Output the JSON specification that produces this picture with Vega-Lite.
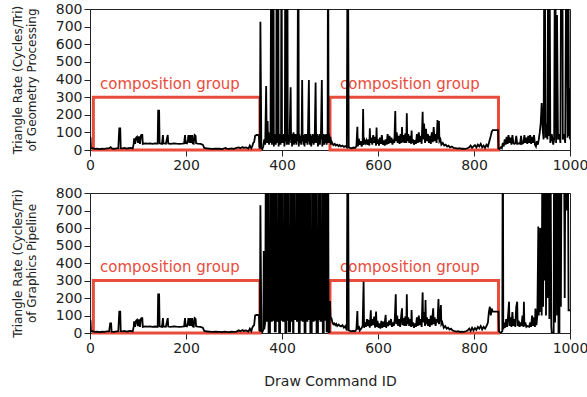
{
  "$schema": "https://vega.github.io/schema/vega-lite/v6.json",
  "padding": {"left": 10, "top": 1, "right": 0, "bottom": 5},
  "background": "white",
  "spacing": 12,
  "config": {
    "font": "DejaVu Sans",
    "view": {"stroke": "#222", "strokeWidth": 1},
    "axis": {"grid": false, "domainColor": "#222", "tickColor": "#222", "labelColor": "#222", "titleColor": "#222", "labelFontSize": 14, "titleFontSize": 12, "titleFontWeight": "normal", "tickSize": 6, "labelPadding": 2, "labelFont": "DejaVu Sans", "titleFont": "DejaVu Sans", "format": "d", "labelFlush": false, "labelOverlap": false}
  },
  "datasets": {
    "boxes": [
      {"a": 7, "b": 354, "lo": 0, "hi": 300, "tx": 21, "ty": 375, "label": "composition group"},
      {"a": 500, "b": 851, "lo": 0, "hi": 300, "tx": 521, "ty": 375, "label": "composition group"}
    ],
    "geo": [
      {"x":0,"y":75},{"x":1,"y":70},{"x":2,"y":8},{"x":5,"y":10},{"x":10,"y":6},{"x":15,"y":8},{"x":20,"y":5},{"x":25,"y":7},{"x":30,"y":6},{"x":35,"y":9},{"x":40,"y":10},{"x":43,"y":16},{"x":46,"y":8},{"x":50,"y":7},{"x":55,"y":9},{"x":59,"y":10},{"x":61,"y":123},{"x":63,"y":123},{"x":64,"y":10},{"x":68,"y":9},{"x":72,"y":12},{"x":76,"y":8},{"x":80,"y":10},{"x":85,"y":12},{"x":89,"y":9},
      {"x":91,"y":35},{"x":92,"y":66},{"x":94,"y":35},{"x":96,"y":70},{"x":98,"y":75},{"x":100,"y":40},{"x":102,"y":78},{"x":104,"y":35},{"x":106,"y":80},{"x":107,"y":85},{"x":109,"y":85},{"x":110,"y":35},{"x":115,"y":38},{"x":120,"y":36},{"x":125,"y":38},{"x":130,"y":35},{"x":135,"y":37},{"x":141,"y":36},{"x":142,"y":223},{"x":144,"y":223},{"x":145,"y":38},{"x":150,"y":35},{"x":152,"y":85},{"x":153,"y":38},{"x":158,"y":36},{"x":162,"y":85},{"x":163,"y":37},{"x":168,"y":35},{"x":175,"y":38},{"x":180,"y":36},{"x":186,"y":35},{"x":192,"y":36},{"x":196,"y":37},{"x":198,"y":85},{"x":199,"y":40},{"x":202,"y":38},{"x":204,"y":60},{"x":205,"y":85},{"x":207,"y":40},{"x":209,"y":85},{"x":211,"y":40},{"x":213,"y":85},{"x":214,"y":38},{"x":216,"y":36},{"x":218,"y":85},{"x":220,"y":80},{"x":221,"y":38},{"x":225,"y":36},{"x":230,"y":35},{"x":235,"y":30},{"x":238,"y":12},{"x":242,"y":10},{"x":248,"y":8},{"x":255,"y":6},{"x":262,"y":8},{"x":270,"y":7},{"x":275,"y":5},{"x":280,"y":10},{"x":282,"y":12},{"x":285,"y":8},{"x":290,"y":6},{"x":295,"y":9},{"x":300,"y":7},{"x":305,"y":12},{"x":310,"y":15},{"x":313,"y":10},{"x":318,"y":17},{"x":320,"y":12},{"x":325,"y":15},{"x":330,"y":8},{"x":333,"y":25},{"x":336,"y":10},{"x":338,"y":20},
      {"x":340,"y":40},{"x":342,"y":45},{"x":344,"y":80},{"x":347,"y":85},{"x":350,"y":85},{"x":352,"y":80},{"x":353,"y":20},{"x":354,"y":10},{"x":355,"y":728},{"x":357,"y":10},{"x":359,"y":5},{"x":361,"y":20},{"x":363,"y":60},{"x":365,"y":30},{"x":367,"y":363},{"x":368,"y":80},{"x":369,"y":40},{"x":370,"y":165},{"x":371,"y":50},{"x":372,"y":100},{"x":373,"y":30},{"x":374,"y":80},{"x":375,"y":40},{"x":376,"y":90},{"x":378,"y":1500},{"x":379,"y":30},{"x":380,"y":90},{"x":381,"y":60},{"x":382,"y":1500},{"x":383,"y":20},{"x":384,"y":90},{"x":385,"y":50},{"x":386,"y":80},{"x":387,"y":30},{"x":388,"y":80},{"x":389,"y":1500},{"x":390,"y":40},{"x":391,"y":100},{"x":392,"y":1500},{"x":393,"y":20},{"x":394,"y":85},{"x":395,"y":50},{"x":396,"y":90},{"x":397,"y":30},{"x":398,"y":80},{"x":399,"y":1500},{"x":400,"y":40},{"x":401,"y":60},{"x":402,"y":80},{"x":403,"y":40},{"x":404,"y":90},{"x":405,"y":20},{"x":406,"y":70},{"x":407,"y":1500},{"x":408,"y":50},{"x":409,"y":90},{"x":410,"y":30},{"x":411,"y":1500},{"x":412,"y":60},{"x":413,"y":80},{"x":414,"y":30},{"x":416,"y":90},{"x":418,"y":356},{"x":419,"y":40},{"x":420,"y":90},{"x":421,"y":20},{"x":422,"y":80},{"x":423,"y":60},{"x":424,"y":100},{"x":425,"y":30},{"x":426,"y":80},{"x":427,"y":40},{"x":428,"y":90},{"x":429,"y":60},{"x":430,"y":30},{"x":431,"y":85},{"x":432,"y":50},{"x":434,"y":1500},{"x":435,"y":20},{"x":436,"y":90},{"x":437,"y":40},{"x":438,"y":80},{"x":439,"y":60},{"x":440,"y":30},{"x":441,"y":90},{"x":442,"y":397},{"x":443,"y":50},{"x":444,"y":85},{"x":445,"y":30},{"x":446,"y":70},{"x":447,"y":20},{"x":448,"y":90},{"x":449,"y":50},{"x":450,"y":80},{"x":451,"y":40},{"x":452,"y":90},{"x":453,"y":30},{"x":454,"y":85},{"x":456,"y":397},{"x":457,"y":60},{"x":458,"y":30},{"x":459,"y":90},{"x":460,"y":50},{"x":461,"y":20},{"x":462,"y":80},{"x":463,"y":40},{"x":464,"y":90},{"x":465,"y":60},{"x":466,"y":30},{"x":467,"y":85},{"x":468,"y":40},{"x":470,"y":383},{"x":471,"y":80},{"x":472,"y":40},{"x":473,"y":90},{"x":474,"y":60},{"x":475,"y":20},{"x":476,"y":80},{"x":477,"y":50},{"x":478,"y":90},{"x":479,"y":30},{"x":480,"y":85},{"x":481,"y":60},{"x":483,"y":397},{"x":484,"y":20},{"x":485,"y":80},{"x":486,"y":50},{"x":487,"y":90},{"x":488,"y":30},{"x":489,"y":85},{"x":490,"y":60},{"x":491,"y":40},{"x":492,"y":90},{"x":493,"y":30},{"x":494,"y":70},{"x":495,"y":50},{"x":496,"y":1500},{"x":497,"y":40},{"x":498,"y":90},
      {"x":499,"y":60},{"x":500,"y":40},{"x":501,"y":75},{"x":502,"y":30},{"x":503,"y":50},{"x":505,"y":38},{"x":507,"y":28},{"x":510,"y":35},{"x":512,"y":25},{"x":515,"y":30},{"x":518,"y":22},{"x":520,"y":28},{"x":523,"y":20},{"x":526,"y":25},{"x":529,"y":18},{"x":532,"y":22},{"x":535,"y":15},{"x":537,"y":1500},{"x":539,"y":15},{"x":542,"y":12},{"x":545,"y":10},{"x":549,"y":14},{"x":552,"y":12},{"x":555,"y":20},{"x":557,"y":132},{"x":558,"y":20},{"x":560,"y":65},{"x":562,"y":30},{"x":564,"y":50},{"x":566,"y":20},{"x":568,"y":40},{"x":569,"y":233},{"x":570,"y":30},{"x":572,"y":57},{"x":574,"y":40},{"x":576,"y":55},{"x":578,"y":30},{"x":580,"y":60},{"x":582,"y":25},{"x":583,"y":123},{"x":584,"y":40},{"x":586,"y":70},{"x":588,"y":30},{"x":590,"y":85},{"x":592,"y":40},{"x":594,"y":75},{"x":596,"y":25},{"x":597,"y":127},{"x":598,"y":35},{"x":600,"y":60},{"x":602,"y":25},{"x":604,"y":70},{"x":606,"y":35},{"x":608,"y":85},{"x":610,"y":30},{"x":612,"y":55},{"x":614,"y":25},{"x":616,"y":60},{"x":618,"y":30},{"x":620,"y":90},{"x":622,"y":35},{"x":624,"y":80},{"x":626,"y":40},{"x":628,"y":70},{"x":630,"y":30},{"x":632,"y":60},{"x":634,"y":40},{"x":636,"y":221},{"x":637,"y":50},{"x":639,"y":100},{"x":641,"y":40},{"x":643,"y":80},{"x":645,"y":35},{"x":647,"y":90},{"x":649,"y":40},{"x":650,"y":130},{"x":651,"y":45},{"x":653,"y":85},{"x":655,"y":40},{"x":657,"y":95},{"x":659,"y":40},{"x":660,"y":208},{"x":661,"y":50},{"x":663,"y":90},{"x":665,"y":40},{"x":667,"y":80},{"x":669,"y":35},{"x":670,"y":110},{"x":671,"y":40},{"x":673,"y":60},{"x":675,"y":30},{"x":677,"y":55},{"x":679,"y":35},{"x":681,"y":90},{"x":683,"y":40},{"x":685,"y":100},{"x":687,"y":45},{"x":689,"y":80},{"x":691,"y":35},{"x":693,"y":217},{"x":694,"y":60},{"x":696,"y":150},{"x":698,"y":40},{"x":700,"y":120},{"x":702,"y":50},{"x":704,"y":90},{"x":706,"y":40},{"x":708,"y":80},{"x":710,"y":35},{"x":712,"y":100},{"x":714,"y":45},{"x":716,"y":130},{"x":718,"y":50},{"x":720,"y":90},{"x":722,"y":40},{"x":724,"y":170},{"x":725,"y":60},{"x":727,"y":165},{"x":728,"y":50},{"x":730,"y":60},{"x":732,"y":30},{"x":735,"y":40},{"x":738,"y":25},{"x":741,"y":30},{"x":744,"y":20},{"x":747,"y":25},{"x":750,"y":15},{"x":754,"y":20},{"x":758,"y":12},{"x":762,"y":10},{"x":766,"y":8},{"x":770,"y":10},{"x":774,"y":7},{"x":778,"y":8},{"x":782,"y":6},{"x":786,"y":10},{"x":790,"y":15},{"x":793,"y":25},{"x":796,"y":12},{"x":799,"y":20},{"x":802,"y":28},{"x":805,"y":15},{"x":808,"y":30},{"x":811,"y":20},{"x":814,"y":35},{"x":817,"y":15},{"x":820,"y":25},{"x":823,"y":12},{"x":826,"y":30},{"x":829,"y":20},{"x":832,"y":50},{"x":835,"y":80},{"x":837,"y":104},{"x":839,"y":113},{"x":850,"y":113},{"x":851,"y":10},{"x":853,"y":5},{"x":856,"y":15},{"x":858,"y":10},
      {"x":860,"y":40},{"x":862,"y":20},{"x":864,"y":60},{"x":866,"y":30},{"x":868,"y":75},{"x":870,"y":35},{"x":872,"y":85},{"x":874,"y":40},{"x":876,"y":70},{"x":878,"y":30},{"x":880,"y":85},{"x":882,"y":40},{"x":884,"y":35},{"x":886,"y":38},{"x":888,"y":80},{"x":890,"y":35},{"x":892,"y":36},{"x":894,"y":38},{"x":896,"y":35},{"x":898,"y":80},{"x":900,"y":35},{"x":903,"y":40},{"x":905,"y":85},{"x":907,"y":40},{"x":909,"y":70},{"x":911,"y":35},{"x":913,"y":80},{"x":915,"y":40},{"x":917,"y":85},{"x":919,"y":35},{"x":921,"y":75},{"x":923,"y":40},{"x":925,"y":85},{"x":927,"y":30},{"x":929,"y":20},{"x":931,"y":50},{"x":933,"y":30},{"x":935,"y":60},{"x":937,"y":100},{"x":939,"y":153},{"x":941,"y":266},{"x":943,"y":120},{"x":945,"y":60},{"x":947,"y":1500},{"x":949,"y":70},{"x":951,"y":150},{"x":953,"y":60},{"x":955,"y":1500},{"x":956,"y":80},{"x":957,"y":1500},{"x":959,"y":40},{"x":962,"y":90},{"x":965,"y":30},{"x":967,"y":60},{"x":969,"y":1500},{"x":971,"y":40},{"x":973,"y":766},{"x":975,"y":60},{"x":978,"y":90},{"x":980,"y":40},{"x":982,"y":1500},{"x":984,"y":1500},{"x":985,"y":60},{"x":988,"y":90},{"x":990,"y":40},{"x":993,"y":1500},{"x":995,"y":70},{"x":996,"y":1500},{"x":998,"y":80},{"x":999,"y":350},{"x":1000,"y":60}
    ],
    "pipe": [
      {"x":0,"y":75},{"x":1,"y":70},{"x":2,"y":8},{"x":5,"y":10},{"x":10,"y":6},{"x":15,"y":8},{"x":20,"y":5},{"x":25,"y":7},{"x":30,"y":6},{"x":35,"y":9},{"x":40,"y":10},{"x":42,"y":55},{"x":44,"y":55},{"x":45,"y":8},{"x":50,"y":7},{"x":55,"y":9},{"x":59,"y":10},{"x":61,"y":122},{"x":63,"y":122},{"x":64,"y":10},{"x":68,"y":9},{"x":72,"y":12},{"x":76,"y":8},{"x":80,"y":10},{"x":85,"y":12},{"x":89,"y":9},
      {"x":91,"y":35},{"x":92,"y":66},{"x":94,"y":35},{"x":96,"y":70},{"x":98,"y":75},{"x":100,"y":40},{"x":102,"y":78},{"x":104,"y":35},{"x":106,"y":80},{"x":107,"y":85},{"x":109,"y":85},{"x":110,"y":35},{"x":115,"y":38},{"x":120,"y":36},{"x":125,"y":38},{"x":130,"y":35},{"x":135,"y":37},{"x":141,"y":36},{"x":142,"y":221},{"x":144,"y":221},{"x":145,"y":38},{"x":150,"y":35},{"x":152,"y":85},{"x":153,"y":38},{"x":158,"y":36},{"x":162,"y":85},{"x":163,"y":37},{"x":168,"y":35},{"x":175,"y":38},{"x":180,"y":36},{"x":186,"y":35},{"x":192,"y":36},{"x":196,"y":37},{"x":198,"y":85},{"x":199,"y":40},{"x":202,"y":38},{"x":204,"y":60},{"x":205,"y":85},{"x":207,"y":40},{"x":209,"y":85},{"x":211,"y":40},{"x":213,"y":85},{"x":214,"y":38},{"x":216,"y":36},{"x":218,"y":85},{"x":220,"y":80},{"x":221,"y":38},{"x":225,"y":36},{"x":230,"y":35},{"x":235,"y":30},{"x":238,"y":12},{"x":242,"y":10},{"x":248,"y":8},{"x":255,"y":6},{"x":262,"y":8},{"x":270,"y":7},{"x":275,"y":5},{"x":280,"y":8},{"x":285,"y":6},{"x":290,"y":5},{"x":295,"y":7},{"x":300,"y":6},{"x":305,"y":8},{"x":310,"y":15},{"x":313,"y":10},{"x":318,"y":17},{"x":320,"y":12},{"x":325,"y":15},{"x":330,"y":8},{"x":333,"y":25},{"x":336,"y":10},{"x":338,"y":30},
      {"x":340,"y":40},{"x":342,"y":45},{"x":344,"y":100},{"x":347,"y":103},{"x":350,"y":103},{"x":352,"y":100},{"x":353,"y":20},{"x":354,"y":10},{"x":355,"y":730},{"x":357,"y":10},{"x":359,"y":5},{"x":361,"y":20},{"x":362,"y":469},{"x":363,"y":20},{"x":365,"y":60},{"x":367,"y":1500},{"x":368,"y":70},{"x":370,"y":70},{"x":371,"y":1500},{"x":372,"y":0},{"x":375,"y":0},{"x":376,"y":1500},{"x":377,"y":70},{"x":379,"y":70},{"x":380,"y":1500},{"x":381,"y":75},{"x":383,"y":75},{"x":384,"y":1500},{"x":385,"y":10},{"x":387,"y":10},{"x":388,"y":1500},{"x":389,"y":70},{"x":392,"y":70},{"x":393,"y":1500},{"x":394,"y":0},{"x":396,"y":0},{"x":397,"y":1500},{"x":398,"y":75},{"x":400,"y":75},{"x":401,"y":1500},{"x":402,"y":70},{"x":405,"y":70},{"x":406,"y":1500},{"x":407,"y":0},{"x":409,"y":0},{"x":410,"y":1500},{"x":411,"y":75},{"x":412,"y":75},{"x":413,"y":1500},{"x":414,"y":10},{"x":417,"y":10},{"x":418,"y":1500},{"x":419,"y":70},{"x":421,"y":70},{"x":422,"y":1500},{"x":423,"y":0},{"x":424,"y":0},{"x":425,"y":1500},{"x":426,"y":80},{"x":429,"y":80},{"x":430,"y":1500},{"x":431,"y":70},{"x":433,"y":70},{"x":434,"y":1500},{"x":435,"y":0},{"x":437,"y":0},{"x":438,"y":1500},{"x":439,"y":75},{"x":441,"y":75},{"x":442,"y":1500},{"x":443,"y":70},{"x":445,"y":70},{"x":446,"y":1500},{"x":447,"y":0},{"x":449,"y":0},{"x":450,"y":1500},{"x":451,"y":70},{"x":453,"y":70},{"x":454,"y":1500},{"x":455,"y":80},{"x":457,"y":80},{"x":458,"y":1500},{"x":459,"y":0},{"x":462,"y":0},{"x":463,"y":1500},{"x":464,"y":70},{"x":466,"y":70},{"x":467,"y":1500},{"x":468,"y":75},{"x":470,"y":75},{"x":471,"y":1500},{"x":472,"y":0},{"x":475,"y":0},{"x":476,"y":1500},{"x":477,"y":80},{"x":478,"y":80},{"x":479,"y":1500},{"x":480,"y":70},{"x":483,"y":70},{"x":484,"y":1500},{"x":485,"y":0},{"x":487,"y":0},{"x":488,"y":1500},{"x":489,"y":75},{"x":491,"y":75},{"x":492,"y":1500},{"x":493,"y":10},{"x":495,"y":10},{"x":496,"y":1500},{"x":497,"y":0},{"x":499,"y":0},
      {"x":500,"y":183},{"x":501,"y":90},{"x":503,"y":84},{"x":505,"y":60},{"x":507,"y":50},{"x":509,"y":55},{"x":511,"y":45},{"x":513,"y":52},{"x":515,"y":40},{"x":518,"y":48},{"x":520,"y":42},{"x":523,"y":38},{"x":526,"y":45},{"x":529,"y":30},{"x":532,"y":40},{"x":535,"y":15},{"x":537,"y":1500},{"x":539,"y":15},{"x":542,"y":12},{"x":545,"y":10},{"x":549,"y":12},{"x":552,"y":10},{"x":555,"y":20},{"x":557,"y":126},{"x":558,"y":20},{"x":560,"y":40},{"x":562,"y":15},{"x":565,"y":25},{"x":568,"y":40},{"x":570,"y":293},{"x":571,"y":30},{"x":573,"y":60},{"x":575,"y":35},{"x":577,"y":80},{"x":579,"y":40},{"x":581,"y":75},{"x":583,"y":30},{"x":585,"y":130},{"x":586,"y":40},{"x":588,"y":80},{"x":590,"y":45},{"x":592,"y":94},{"x":594,"y":30},{"x":596,"y":122},{"x":597,"y":35},{"x":599,"y":70},{"x":601,"y":30},{"x":603,"y":55},{"x":605,"y":25},{"x":607,"y":70},{"x":609,"y":30},{"x":611,"y":65},{"x":613,"y":35},{"x":616,"y":103},{"x":617,"y":30},{"x":619,"y":60},{"x":621,"y":40},{"x":623,"y":70},{"x":625,"y":45},{"x":627,"y":80},{"x":629,"y":35},{"x":631,"y":60},{"x":633,"y":40},{"x":635,"y":80},{"x":637,"y":221},{"x":638,"y":50},{"x":640,"y":100},{"x":642,"y":40},{"x":644,"y":80},{"x":646,"y":35},{"x":648,"y":90},{"x":650,"y":141},{"x":651,"y":45},{"x":653,"y":85},{"x":655,"y":40},{"x":657,"y":95},{"x":659,"y":40},{"x":660,"y":221},{"x":661,"y":50},{"x":663,"y":90},{"x":665,"y":40},{"x":667,"y":80},{"x":669,"y":35},{"x":670,"y":131},{"x":671,"y":40},{"x":673,"y":60},{"x":675,"y":30},{"x":677,"y":55},{"x":679,"y":35},{"x":681,"y":90},{"x":683,"y":40},{"x":685,"y":100},{"x":687,"y":45},{"x":689,"y":80},{"x":691,"y":35},{"x":693,"y":232},{"x":694,"y":60},{"x":696,"y":120},{"x":698,"y":40},{"x":699,"y":188},{"x":700,"y":50},{"x":702,"y":90},{"x":704,"y":40},{"x":706,"y":80},{"x":708,"y":35},{"x":710,"y":100},{"x":712,"y":45},{"x":715,"y":141},{"x":716,"y":50},{"x":718,"y":90},{"x":720,"y":40},{"x":722,"y":80},{"x":724,"y":60},{"x":726,"y":194},{"x":727,"y":50},{"x":729,"y":90},{"x":731,"y":160},{"x":732,"y":50},{"x":734,"y":60},{"x":737,"y":30},{"x":740,"y":40},{"x":743,"y":25},{"x":746,"y":30},{"x":749,"y":20},{"x":752,"y":25},{"x":755,"y":15},{"x":759,"y":10},{"x":763,"y":8},{"x":767,"y":10},{"x":771,"y":6},{"x":775,"y":8},{"x":779,"y":7},{"x":783,"y":10},{"x":787,"y":15},{"x":790,"y":25},{"x":793,"y":12},{"x":796,"y":30},{"x":799,"y":15},{"x":802,"y":28},{"x":805,"y":18},{"x":808,"y":35},{"x":811,"y":25},{"x":814,"y":40},{"x":817,"y":20},{"x":820,"y":35},{"x":823,"y":25},{"x":826,"y":40},{"x":829,"y":60},{"x":831,"y":120},{"x":833,"y":150},{"x":835,"y":100},{"x":837,"y":140},{"x":839,"y":122},{"x":851,"y":122},{"x":852,"y":10},{"x":855,"y":0},{"x":857,"y":5},{"x":859,"y":10},{"x":860,"y":1500},{"x":861,"y":20},
      {"x":863,"y":60},{"x":865,"y":30},{"x":867,"y":80},{"x":869,"y":35},{"x":871,"y":100},{"x":873,"y":179},{"x":874,"y":40},{"x":876,"y":90},{"x":878,"y":35},{"x":880,"y":120},{"x":882,"y":40},{"x":884,"y":80},{"x":886,"y":35},{"x":888,"y":150},{"x":890,"y":179},{"x":891,"y":40},{"x":893,"y":70},{"x":895,"y":35},{"x":897,"y":60},{"x":899,"y":40},{"x":901,"y":100},{"x":903,"y":35},{"x":904,"y":179},{"x":905,"y":40},{"x":907,"y":60},{"x":909,"y":35},{"x":911,"y":40},{"x":913,"y":38},{"x":915,"y":36},{"x":917,"y":60},{"x":919,"y":35},{"x":921,"y":100},{"x":923,"y":40},{"x":925,"y":90},{"x":927,"y":35},{"x":928,"y":140},{"x":930,"y":45},{"x":932,"y":100},{"x":934,"y":608},{"x":935,"y":100},{"x":936,"y":570},{"x":937,"y":120},{"x":938,"y":600},{"x":939,"y":150},{"x":940,"y":560},{"x":941,"y":100},{"x":943,"y":1500},{"x":944,"y":150},{"x":946,"y":1500},{"x":947,"y":300},{"x":949,"y":1500},{"x":950,"y":100},{"x":952,"y":1500},{"x":953,"y":200},{"x":955,"y":1500},{"x":957,"y":80},{"x":959,"y":1500},{"x":961,"y":40},{"x":962,"y":0},{"x":966,"y":0},{"x":967,"y":1500},{"x":969,"y":60},{"x":971,"y":1500},{"x":973,"y":100},{"x":975,"y":1500},{"x":976,"y":0},{"x":978,"y":0},{"x":979,"y":1500},{"x":981,"y":150},{"x":983,"y":1500},{"x":985,"y":800},{"x":987,"y":1500},{"x":989,"y":200},{"x":991,"y":1500},{"x":993,"y":700},{"x":995,"y":1500},{"x":997,"y":130},{"x":1000,"y":130}
    ]
  },
  "vconcat": [
    {
      "width": 480,
      "height": 141,
      "encoding": {
        "x": {"type": "quantitative", "scale": {"domain": [0, 1000], "nice": false}, "axis": {"title": null, "values": [0, 200, 400, 600, 800, 1000]}},
        "y": {"type": "quantitative", "scale": {"domain": [0, 800], "nice": false}, "axis": {"title": ["Triangle Rate (Cycles/Tri)", "of Geometry Processing"], "values": [0, 100, 200, 300, 400, 500, 600, 700, 800], "titlePadding": 17}}
      },
      "layer": [
        {
          "data": {"name": "boxes"},
          "mark": {"type": "rect", "filled": false, "stroke": "#e74c3c", "strokeWidth": 3},
          "encoding": {"x": {"field": "a"}, "x2": {"field": "b"}, "y": {"field": "lo"}, "y2": {"field": "hi"}}
        },
        {
          "data": {"name": "boxes"},
          "mark": {"type": "text", "align": "left", "baseline": "middle", "fontSize": 15, "color": "#e74c3c", "font": "DejaVu Sans"},
          "encoding": {"x": {"field": "tx"}, "y": {"field": "ty"}, "text": {"field": "label"}}
        },
        {
          "data": {"name": "geo"},
          "mark": {"type": "line", "color": "black", "strokeWidth": 1.8, "clip": true},
          "encoding": {"x": {"field": "x"}, "y": {"field": "y"}}
        }
      ]
    },
    {
      "width": 480,
      "height": 140,
      "encoding": {
        "x": {"type": "quantitative", "scale": {"domain": [0, 1000], "nice": false}, "axis": {"title": "Draw Command ID", "titleFontSize": 14, "titlePadding": 19, "values": [0, 200, 400, 600, 800, 1000]}},
        "y": {"type": "quantitative", "scale": {"domain": [0, 800], "nice": false}, "axis": {"title": ["Triangle Rate (Cycles/Tri)", "of Graphics Pipeline"], "values": [0, 100, 200, 300, 400, 500, 600, 700, 800], "titlePadding": 17}}
      },
      "layer": [
        {
          "data": {"name": "boxes"},
          "mark": {"type": "rect", "filled": false, "stroke": "#e74c3c", "strokeWidth": 3},
          "encoding": {"x": {"field": "a"}, "x2": {"field": "b"}, "y": {"field": "lo"}, "y2": {"field": "hi"}}
        },
        {
          "data": {"name": "boxes"},
          "mark": {"type": "text", "align": "left", "baseline": "middle", "fontSize": 15, "color": "#e74c3c", "font": "DejaVu Sans"},
          "encoding": {"x": {"field": "tx"}, "y": {"field": "ty"}, "text": {"field": "label"}}
        },
        {
          "data": {"name": "pipe"},
          "mark": {"type": "line", "color": "black", "strokeWidth": 1.8, "clip": true},
          "encoding": {"x": {"field": "x"}, "y": {"field": "y"}}
        }
      ]
    }
  ]
}
